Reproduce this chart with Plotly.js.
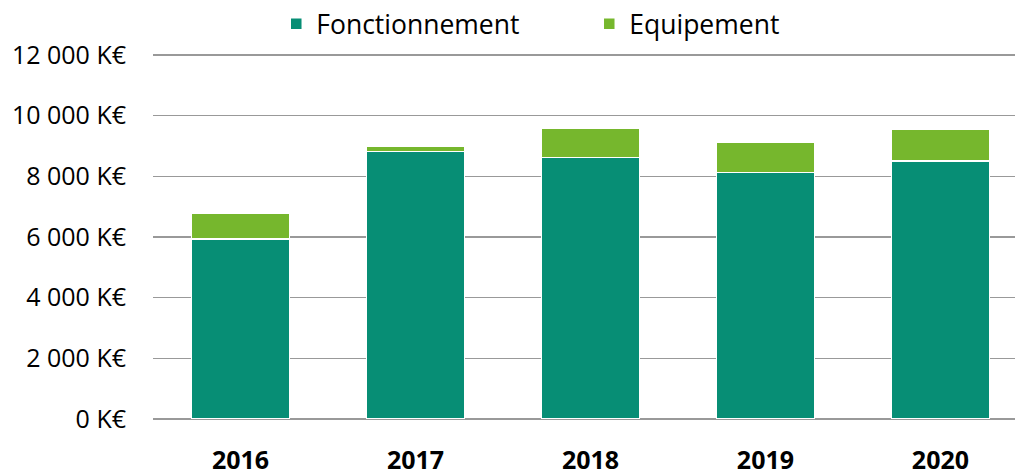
<!DOCTYPE html>
<html><head><meta charset="utf-8">
<script src="https://cdn.plot.ly/plotly-3.0.1.min.js"></script>
<style>body{margin:0;background:#fff}#c{width:1015px;height:475px}</style>
</head><body><div id="c"></div>
<script>
const years = ['2016','2017','2018','2019','2020'];
const fonctionnement = [5930, 8820, 8620, 8120, 8510];
const equipement = [860, 180, 960, 1000, 1040];
const tickValues = [0, 2000, 4000, 6000, 8000, 10000, 12000];
const tickLabels = ['0 K€','2 000 K€','4 000 K€','6 000 K€','8 000 K€','10 000 K€','12 000 K€'];

const font = '"Open Sans", "Noto Sans", sans-serif';
const traces = [
  {type:'bar', name:'Fonctionnement', x:years, y:fonctionnement,
   marker:{color:'#078E75', line:{color:'#ffffff', width:1.5}}, width:0.56},
  {type:'bar', name:'Equipement', x:years, y:equipement,
   marker:{color:'#76B72D', line:{color:'#ffffff', width:1.5}}, width:0.56}
];
const layout = {
  width:1015, height:475,
  margin:{l:153, r:0, t:51, b:56, pad:0, autoexpand:false},
  barmode:'stack',
  paper_bgcolor:'#fff', plot_bgcolor:'#fff',
  font:{family:font, color:'#000', size:25},
  showlegend:true,
  legend:{orientation:'h', x:0.143, xanchor:'left', y:1.1386, yanchor:'top',
          font:{size:26.5, family:font}, entrywidth:268, entrywidthmode:'pixels',
          traceorder:'normal', itemclick:false},
  xaxis:{type:'category', range:[-0.5, 4.426], showgrid:false, showline:false, zeroline:false,
         automargin:false, ticks:'', tickfont:{size:25, family:font, weight:'bold'}, ticklabelstandoff:24},
  yaxis:{range:[0,12130], tickvals:tickValues, ticktext:tickLabels, showgrid:true,
         gridcolor:'#999999', gridwidth:1.6, zeroline:true, zerolinecolor:'#999999', zerolinewidth:1.6,
         showline:false, ticks:'', automargin:false,
         tickfont:{size:25, family:font}, ticklabelstandoff:26, fixedrange:true}
};
Plotly.newPlot('c', traces, layout, {displayModeBar:false, staticPlot:true});
</script></body></html>
